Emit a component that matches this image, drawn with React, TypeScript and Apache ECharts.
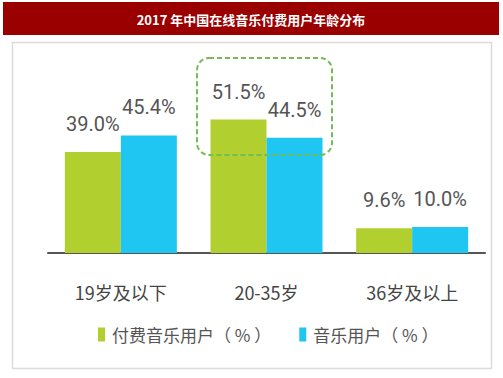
import React, { useEffect, useRef } from "react";
import * as echarts from "echarts";

const titleText = "2017 年中国在线音乐付费用户年龄分布";
const categories = ["19岁及以下", "20-35岁", "36岁及以上"];
const seriesNames = ["付费音乐用户（ % ）", "音乐用户（ % ）"];
const paidUsers = [39.0, 51.5, 9.6];
const musicUsers = [45.4, 44.5, 10.0];
const colors = ["#b1cf2e", "#1ec6f1"];

const valueFont = "Roboto, 'Open Sans', sans-serif";
const cjkFont = "'Noto Sans CJK SC', 'Noto Sans', sans-serif";

export default function App() {
  const ref = useRef<HTMLDivElement>(null);
  useEffect(() => {
    if (!ref.current) return;
    const chart = echarts.init(ref.current, null, { renderer: "svg" });
    const label = {
      show: true,
      position: "top",
      distance: 18,
      color: "#555",
      fontSize: 20,
      fontFamily: valueFont,
      formatter: (p: any) => p.value.toFixed(1) + "%",
    };
    chart.setOption({
      animation: false,
      backgroundColor: "#fff",
      grid: { left: 48, right: 18, top: 97.6, bottom: 125 },
      xAxis: {
        type: "category",
        data: categories,
        axisLine: { lineStyle: { color: "#555", width: 2 } },
        axisTick: { show: false },
        axisLabel: { color: "#444", fontSize: 18, fontFamily: cjkFont, margin: 30 },
      },
      yAxis: { type: "value", min: 0, max: 60, show: false, splitLine: { show: false } },
      legend: {
        data: seriesNames,
        left: 93,
        top: 321,
        icon: "rect",
        itemWidth: 7,
        itemHeight: 14,
        itemGap: 28,
        textStyle: { color: "#555", fontSize: 17, fontFamily: cjkFont, padding: [0, 0, 0, 2] },
      },
      series: [
        { name: seriesNames[0], type: "bar", data: paidUsers, barWidth: 56, barGap: "0%", itemStyle: { color: colors[0] }, label },
        { name: seriesNames[1], type: "bar", data: musicUsers, barWidth: 56, barGap: "0%", itemStyle: { color: colors[1] }, label },
      ],
      graphic: [
        { type: "rect", shape: { x: 3, y: 2, width: 496, height: 33 }, style: { fill: "#9a0000" }, z: 0 },
        {
          type: "text",
          x: 251,
          y: 19,
          style: { text: titleText, fill: "#fff", fontSize: 13, fontWeight: "bold", fontFamily: cjkFont, align: "center", verticalAlign: "middle" },
        },
        { type: "rect", shape: { x: 12.5, y: 42.5, width: 479, height: 326 }, style: { fill: "none", stroke: "#dcdcdc", lineWidth: 1.5 }, z: 0 },
        {
          type: "rect",
          z: 100,
          shape: { x: 197, y: 58, width: 135, height: 97, r: 12 },
          style: { fill: "none", stroke: "#74ba57", lineWidth: 2, lineDash: [5, 3] },
        },
      ],
    });
    return () => chart.dispose();
  }, []);
  return <div ref={ref} style={{ position: "fixed", left: 0, top: 0, width: 503, height: 378, background: "#fff" }} />;
}
